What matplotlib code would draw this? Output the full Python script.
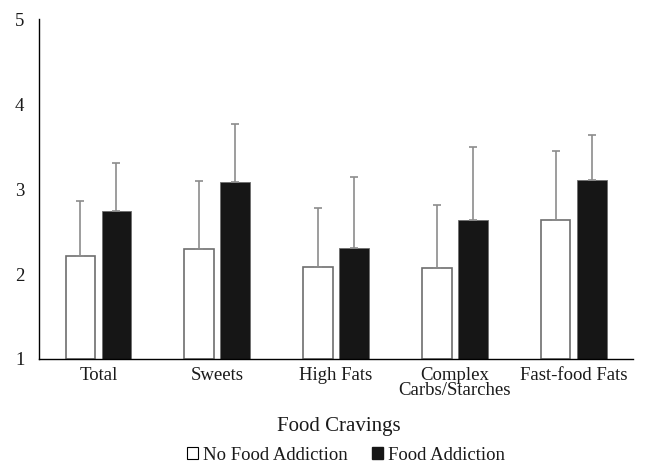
import matplotlib.pyplot as plt
import numpy as np
from matplotlib.patches import Patch

plt.rcParams['font.family'] = ['Liberation Serif', 'DejaVu Serif']

categories = ['Total', 'Sweets', 'High Fats', 'Complex\nCarbs/Starches', 'Fast-food Fats']
no_fa = [2.21, 2.29, 2.08, 2.07, 2.63]
no_fa_sd = [0.65, 0.81, 0.70, 0.74, 0.82]
fa = [2.74, 3.08, 2.31, 2.64, 3.11]
fa_sd = [0.57, 0.68, 0.83, 0.85, 0.53]

fig = plt.figure(figsize=(6.46, 4.67), dpi=100)
ax = fig.add_axes([0.0604, 0.2313, 0.9196, 0.7277])

x = np.arange(len(categories))
w = 0.25
off = 0.152
err_kw = dict(ecolor='#8c8c8c', elinewidth=1.2, capsize=3, capthick=1.2)

ax.bar(x - off, np.array(no_fa) - 1, w, bottom=1, color='white', edgecolor='#6e6e6e',
       linewidth=1.2, yerr=[np.zeros(5), no_fa_sd], error_kw=err_kw, label='No Food Addiction')
ax.bar(x + off, np.array(fa) - 1, w, bottom=1, color='#161616', edgecolor='#6e6e6e',
       linewidth=0.6, yerr=[np.zeros(5), fa_sd], error_kw=err_kw, label='Food Addiction')

ax.set_xlim(-0.5, 4.5)
ax.set_ylim(1, 5)
ax.set_yticks([1, 2, 3, 4, 5])
ax.set_xticks(x)
ax.set_xticklabels(categories, linespacing=0.8)
ax.tick_params(axis='both', length=0, labelsize=13.5, colors='#1a1a1a')
ax.tick_params(axis='y', pad=10.5)
ax.tick_params(axis='x', pad=6)
for s in ['top', 'right']:
    ax.spines[s].set_visible(False)
ax.spines['left'].set_linewidth(1.0)
ax.spines['bottom'].set_linewidth(1.0)

fig.text(0.525, 1 - 426 / 467, 'Food Cravings', ha='center', va='center', fontsize=15,
         color='#1a1a1a')

handles = [Patch(facecolor='white', edgecolor='black', linewidth=0.8),
           Patch(facecolor='#161616', edgecolor='#161616')]
fig.legend(handles, ['No Food Addiction', 'Food Addiction'], loc='center',
           bbox_to_anchor=(0.535, 1 - 455 / 467), ncol=2, frameon=False, fontsize=13.5,
           handlelength=0.6, handleheight=0.6, handletextpad=0.25, columnspacing=1.3,
           labelcolor='#1a1a1a')

fig.savefig('out.png', dpi=100)
